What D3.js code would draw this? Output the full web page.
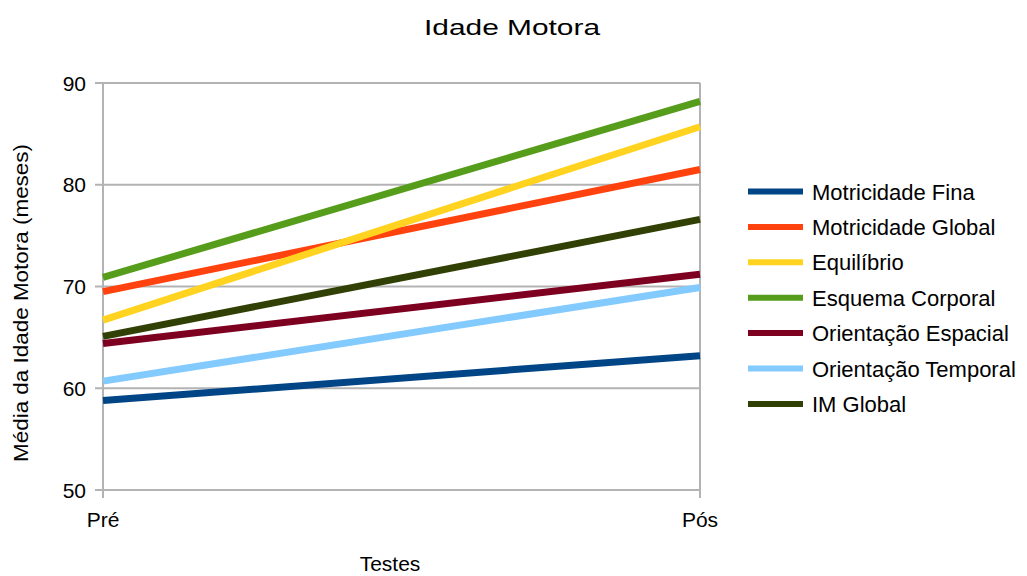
<!DOCTYPE html>
<html>
<head>
<meta charset="utf-8">
<script src="https://cdnjs.cloudflare.com/ajax/libs/d3/7.8.5/d3.min.js"></script>
<style>
  body { margin: 0; background: #fff; }
  text { font-family: "Liberation Sans", Arial, sans-serif; fill: #000; }
</style>
</head>
<body>
<div id="chart"></div>
<script>
//Data
var tests = ["Pré", "Pós"];
var seriesNames = ["Motricidade Fina", "Motricidade Global", "Equilíbrio", "Esquema Corporal",
    "Orientação Espacial", "Orientação Temporal", "IM Global"];
var preValues = [58.8, 69.5, 66.7, 70.9, 64.4, 60.7, 65.1];
var posValues = [63.2, 81.5, 85.7, 88.2, 71.2, 69.9, 76.6];
var seriesColors = ["#004586", "#ff420e", "#ffd320", "#579d1c", "#7e0021", "#83caff", "#314004"];
var yTicks = [50, 60, 70, 80, 90];

//Width and height
var w = 1027;
var h = 576;
var plotLeft = 103, plotRight = 700, plotTop = 83, plotBottom = 490;

var svg = d3.select("#chart")
    .append("svg")
    .attr("width", w)
    .attr("height", h);

var x = d3.scalePoint()
    .domain(tests)
    .range([plotLeft, plotRight]);

var y = d3.scaleLinear()
    .domain([50, 90])
    .range([plotBottom, plotTop]);

//Gridlines
svg.append("g")
    .selectAll("line")
    .data(yTicks)
    .enter()
    .append("line")
    .attr("x1", plotLeft - 8)
    .attr("x2", plotRight)
    .attr("y1", function(d) { return y(d); })
    .attr("y2", function(d) { return y(d); })
    .attr("stroke", "#b3b3b3")
    .attr("stroke-width", 2);

//Axes lines (left and right frame)
svg.append("line")
    .attr("x1", plotLeft).attr("x2", plotLeft)
    .attr("y1", plotTop).attr("y2", plotBottom + 8)
    .attr("stroke", "#b3b3b3").attr("stroke-width", 2);
svg.append("line")
    .attr("x1", plotRight).attr("x2", plotRight)
    .attr("y1", plotTop).attr("y2", plotBottom + 8)
    .attr("stroke", "#b3b3b3").attr("stroke-width", 2);

//Y tick labels
svg.append("g")
    .selectAll("text")
    .data(yTicks)
    .enter()
    .append("text")
    .attr("x", plotLeft - 17)
    .attr("y", function(d) { return y(d); })
    .attr("dy", "0.36em")
    .attr("text-anchor", "end")
    .style("font-size", "21px")
    .text(function(d) { return d; });

//X tick labels
svg.append("g")
    .selectAll("text")
    .data(tests)
    .enter()
    .append("text")
    .attr("x", function(d) { return x(d); })
    .attr("y", 527)
    .attr("text-anchor", "middle")
    .style("font-size", "21px")
    .text(function(d) { return d; });

//Lines
var line = d3.line()
    .x(function(d) { return x(d.test); })
    .y(function(d) { return y(d.value); });

seriesNames.forEach(function(name, i) {
    var pts = [{test: tests[0], value: preValues[i]}, {test: tests[1], value: posValues[i]}];
    svg.append("path")
        .datum(pts)
        .attr("d", line)
        .attr("fill", "none")
        .attr("stroke", seriesColors[i])
        .attr("stroke-width", 7);
});

//Title
svg.append("text")
    .attr("x", 512)
    .attr("y", 34.5)
    .attr("text-anchor", "middle")
    .attr("textLength", 176)
    .attr("lengthAdjust", "spacingAndGlyphs")
    .style("font-size", "22px")
    .text("Idade Motora");

//Axis titles
svg.append("text")
    .attr("x", 390)
    .attr("y", 571)
    .attr("text-anchor", "middle")
    .style("font-size", "21px")
    .text("Testes");

svg.append("text")
    .attr("transform", "translate(28," + 303 + ") rotate(-90)")
    .attr("text-anchor", "middle")
    .attr("textLength", 318)
    .attr("lengthAdjust", "spacingAndGlyphs")
    .style("font-size", "20px")
    .text("Média da Idade Motora (meses)");

//Legend
var legend = svg.append("g")
    .selectAll("g")
    .data(seriesNames)
    .enter()
    .append("g")
    .attr("transform", function(d, i) { return "translate(748," + (191.5 + i * 35.4) + ")"; });

legend.append("line")
    .attr("x1", 0).attr("x2", 55)
    .attr("y1", 0).attr("y2", 0)
    .attr("stroke", function(d, i) { return seriesColors[i]; })
    .attr("stroke-width", 6);

legend.append("text")
    .attr("x", 64)
    .attr("y", 8)
    .style("font-size", "22px")
    .text(function(d) { return d; });
</script>
</body>
</html>
